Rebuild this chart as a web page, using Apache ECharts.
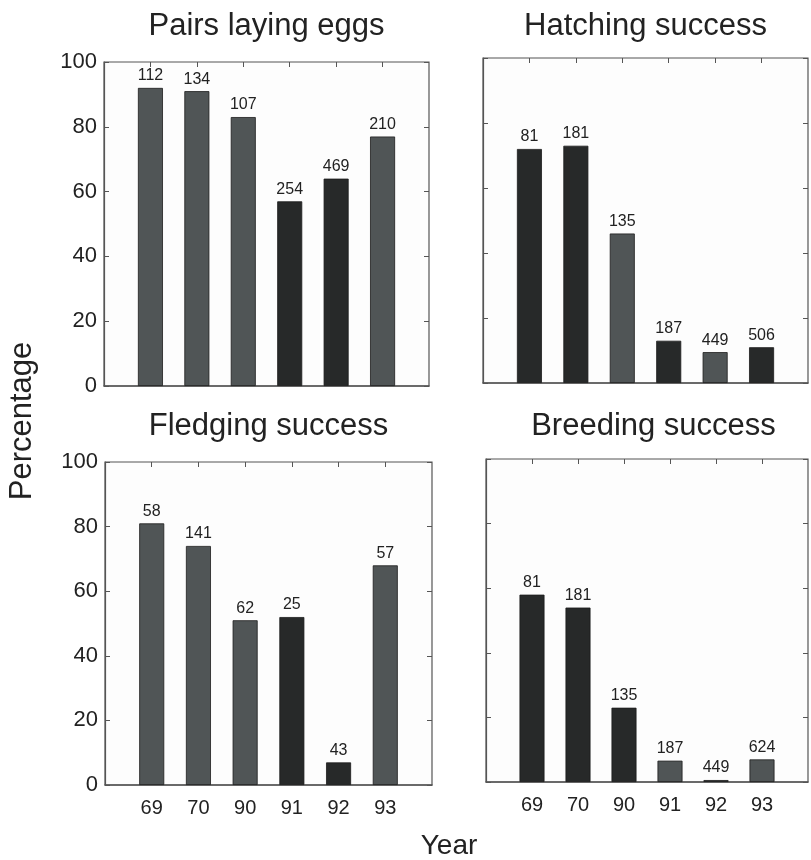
<!DOCTYPE html>
<html><head><meta charset="utf-8">
<script src="https://cdn.jsdelivr.net/npm/echarts@6/dist/echarts.min.js"></script>
<style>html,body{margin:0;padding:0;background:#fff}#c{width:811px;height:860px}</style>
</head><body><div id="c"></div>
<script>
const years = ['69','70','90','91','92','93'];
const yTicks = [0,20,40,60,80,100];

const pairsPct   = [92, 91, 83, 57, 64, 77];
const pairsN     = [112, 134, 107, 254, 469, 210];
const pairsShade = ['g','g','g','d','d','g'];

const hatchPct   = [72, 73, 46, 13, 9.5, 11];
const hatchN     = [81, 181, 135, 187, 449, 506];
const hatchShade = ['d','d','g','d','g','d'];

const fledgePct   = [81, 74, 51, 52, 7, 68];
const fledgeN     = [58, 141, 62, 25, 43, 57];
const fledgeShade = ['g','g','g','d','d','g'];

const breedPct   = [58, 54, 23, 6.6, 0.6, 7];
const breedN     = [81, 181, 135, 187, 449, 624];
const breedShade = ['d','d','d','g','d','g'];

const GRAY = '#505556', DARK = '#272929', AX = '#555';
const FONT = 'Liberation Sans, Arial, sans-serif';

const panels = [
  {title:'Pairs laying eggs', pct:pairsPct, n:pairsN, shade:pairsShade, g:{left:104,top:62,width:325,height:324}, showY:true, showX:false, ty:11},
  {title:'Hatching success', pct:hatchPct, n:hatchN, shade:hatchShade, g:{left:483,top:58,width:325,height:325}, showY:false, showX:false, ty:11},
  {title:'Fledging success', pct:fledgePct, n:fledgeN, shade:fledgeShade, g:{left:105,top:462,width:327,height:323}, showY:true, showX:true, ty:411},
  {title:'Breeding success', pct:breedPct, n:breedN, shade:breedShade, g:{left:486,top:459,width:323,height:323}, showY:false, showX:true, ty:411}
];

const cats = [''].concat(years).concat(['']);
const grid = [], xAxis = [], yAxis = [], series = [], graphic = [];
panels.forEach((p, i) => {
  grid.push(Object.assign({show:true, borderColor:AX, borderWidth:1.2, backgroundColor:'#fdfdfd'}, p.g));
  const tickFn = (idx) => idx > 0 && idx < cats.length - 1;
  xAxis.push({type:'category', gridIndex:i, data:cats, boundaryGap:false, position:'bottom',
    axisLine:{show:true, onZero:false, lineStyle:{color:AX, width:1.5}},
    axisTick:{show:false},
    axisLabel:{show:p.showX, interval:0, fontSize:20, color:'#222', fontFamily:FONT, margin:13}});
  xAxis.push({type:'category', gridIndex:i, data:cats, boundaryGap:false, position:'top',
    axisLine:{show:false, onZero:false}, axisLabel:{show:false},
    axisTick:{show:true, inside:true, length:5, interval:tickFn, lineStyle:{color:AX}}});
  yAxis.push({type:'value', gridIndex:i, min:0, max:100, interval:20, position:'left',
    splitLine:{show:false},
    axisLine:{show:true, onZero:false, lineStyle:{color:AX, width:1.2}},
    axisTick:{show:true, inside:true, length:5, lineStyle:{color:AX}},
    axisLabel:{show:p.showY, fontSize:22, color:'#222', fontFamily:FONT, margin:7}});
  yAxis.push({type:'value', gridIndex:i, min:0, max:100, interval:20, position:'right',
    splitLine:{show:false}, axisLine:{show:false, onZero:false}, axisLabel:{show:false},
    axisTick:{show:true, inside:true, length:5, lineStyle:{color:AX}}});
  const data = ['-'].concat(p.pct.map((v, j) => ({
    value: v,
    itemStyle: {color: p.shade[j] === 'd' ? DARK : GRAY}
  }))).concat(['-']);
  const nArr = p.n;
  series.push({type:'bar', xAxisIndex:i*2, yAxisIndex:i*2, barWidth:25, data,
    itemStyle:{borderColor:'#1c1c1c', borderWidth:0.8},
    label:{show:true, position:'top', distance:4, fontSize:16, color:'#222', fontFamily:FONT,
      formatter: (q) => String(nArr[q.dataIndex - 1])}});
  const cx = p.g.left + p.g.width / 2 + (i === 3 ? 6 : 0);
  graphic.push({type:'text', x:cx, y:p.ty, style:{text:p.title, fontSize:31, fontFamily:FONT,
    fill:'#222', textAlign:'center', textVerticalAlign:'top', align:'center', verticalAlign:'top'}});
});
graphic.push({type:'text', x:22, y:421, rotation:Math.PI/2, style:{text:'Percentage', fontSize:31, fontFamily:FONT,
  fill:'#222', textAlign:'center', textVerticalAlign:'middle', align:'center', verticalAlign:'middle'}});
graphic.push({type:'text', x:449, y:846, style:{text:'Year', fontSize:28, fontFamily:FONT,
  fill:'#222', textAlign:'center', textVerticalAlign:'middle', align:'center', verticalAlign:'middle'}});

const chart = echarts.init(document.getElementById('c'), null, {renderer:'canvas'});
chart.setOption({animation:false, backgroundColor:'#fff', grid, xAxis, yAxis, series, graphic});
</script></body></html>
